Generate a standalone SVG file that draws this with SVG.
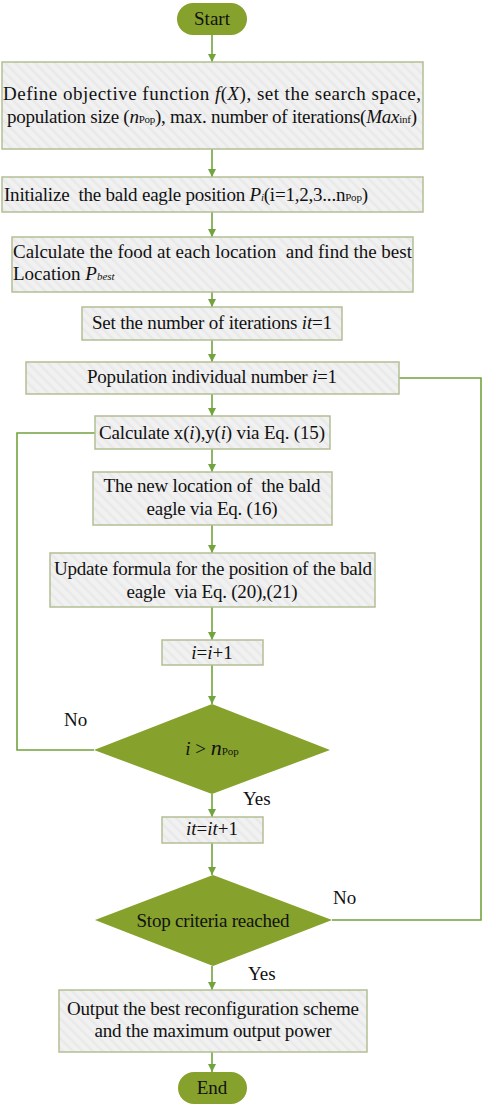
<svg xmlns="http://www.w3.org/2000/svg" width="484" height="1107" viewBox="0 0 484 1107">
<style>
text{font-family:"Liberation Serif","Times New Roman",serif;font-size:19px;fill:#111;white-space:pre}
.c{text-anchor:middle}
.it{font-style:italic}
.sm{font-size:11px}
.box{fill:url(#hatch);stroke:#b2be94;stroke-width:1.5}
.term{fill:#86a22c}
.dia{fill:#86a22c}
.con{fill:none;stroke:#72a33c;stroke-width:1.6}
</style>
<defs>
<pattern id="hatch" width="7" height="7" patternUnits="userSpaceOnUse" patternTransform="rotate(-45)">
<rect width="7" height="7" fill="#f1f1f1"/>
<rect width="2.5" height="7" fill="#e9e9e9"/>
</pattern>
<marker id="arr" markerUnits="userSpaceOnUse" markerWidth="9" markerHeight="9" refX="8" refY="4" orient="auto">
<path d="M0,0 L8,4 L0,8 z" fill="#72a33c"/>
</marker>
</defs>
<g id="connectors">
<line class="con" x1="212" y1="35" x2="212" y2="62" marker-end="url(#arr)"/>
<line class="con" x1="212" y1="149" x2="212" y2="177" marker-end="url(#arr)"/>
<line class="con" x1="212" y1="212" x2="212" y2="237" marker-end="url(#arr)"/>
<line class="con" x1="212" y1="292" x2="212" y2="307" marker-end="url(#arr)"/>
<line class="con" x1="212" y1="340" x2="212" y2="362" marker-end="url(#arr)"/>
<line class="con" x1="212" y1="394" x2="212" y2="416" marker-end="url(#arr)"/>
<line class="con" x1="212" y1="449" x2="212" y2="472" marker-end="url(#arr)"/>
<line class="con" x1="212" y1="525" x2="212" y2="553" marker-end="url(#arr)"/>
<line class="con" x1="212" y1="607" x2="212" y2="640" marker-end="url(#arr)"/>
<line class="con" x1="212" y1="665" x2="212" y2="704" marker-end="url(#arr)"/>
<polyline class="con" points="94,750 17,750 17,433 95,433"/>
<line class="con" x1="212" y1="794" x2="212" y2="817" marker-end="url(#arr)"/>
<line class="con" x1="212" y1="843" x2="212" y2="875" marker-end="url(#arr)"/>
<polyline class="con" points="332,920 481,920 481,378 399,378"/>
<line class="con" x1="212" y1="966" x2="212" y2="990" marker-end="url(#arr)"/>
<line class="con" x1="212" y1="1052" x2="212" y2="1072" marker-end="url(#arr)"/>
<text x="64" y="726">No</text>
<text x="243" y="805">Yes</text>
<text x="333" y="904">No</text>
<text x="248" y="980">Yes</text>
</g>
<g id="start">
<rect class="term" x="177" y="3" width="70" height="32" rx="16"/>
<text class="c" x="212" y="25">Start</text>
</g>
<g id="define">
<rect class="box" x="2" y="62" width="421" height="87"/>
<text class="c" x="212" y="100" textLength="418" lengthAdjust="spacing">Define objective function <tspan class="it">f</tspan>(<tspan class="it">X</tspan>), set the search space,</text>
<text class="c" x="212" y="123" textLength="410" lengthAdjust="spacing">population size (<tspan class="it">n</tspan><tspan class="sm">Pop</tspan>), max. number of iterations(<tspan class="it">Max</tspan><tspan class="sm">inf</tspan>)</text>
</g>
<g id="init">
<rect class="box" x="2" y="177" width="421" height="35"/>
<text x="4" y="201" textLength="364" lengthAdjust="spacing">Initialize  the bald eagle position <tspan class="it">P</tspan><tspan class="it sm">i</tspan>(i=1,2,3...n<tspan class="sm">Pop</tspan>)</text>
</g>
<g id="food">
<rect class="box" x="12" y="237" width="401" height="55"/>
<text x="13" y="258" textLength="399" lengthAdjust="spacing">Calculate the food at each location  and find the best</text>
<text x="13" y="280">Location <tspan class="it">P</tspan><tspan class="it sm">best</tspan></text>
</g>
<g id="setit">
<rect class="box" x="82" y="307" width="260" height="33"/>
<text class="c" x="212" y="329" textLength="240" lengthAdjust="spacing">Set the number of iterations <tspan class="it">it</tspan>=1</text>
</g>
<g id="popi">
<rect class="box" x="26" y="362" width="373" height="32"/>
<text class="c" x="212" y="383" textLength="250" lengthAdjust="spacing">Population individual number <tspan class="it">i</tspan>=1</text>
</g>
<g id="calcxy">
<rect class="box" x="95" y="416" width="235" height="33"/>
<text class="c" x="212" y="439" textLength="226" lengthAdjust="spacing">Calculate x(<tspan class="it">i</tspan>),y(<tspan class="it">i</tspan>) via Eq. (15)</text>
</g>
<g id="newloc">
<rect class="box" x="93" y="472" width="239" height="53"/>
<text class="c" x="212" y="492" textLength="217" lengthAdjust="spacing">The new location of  the bald</text>
<text class="c" x="212" y="515" textLength="131" lengthAdjust="spacing">eagle via Eq. (16)</text>
</g>
<g id="update">
<rect class="box" x="50" y="553" width="325" height="54"/>
<text class="c" x="213" y="575" textLength="318" lengthAdjust="spacing">Update formula for the position of the bald</text>
<text class="c" x="212" y="598" textLength="171" lengthAdjust="spacing">eagle  via Eq. (20),(21)</text>
</g>
<g id="inc-i">
<rect class="box" x="162" y="640" width="101" height="25"/>
<text class="c" x="212" y="659"><tspan class="it">i</tspan>=<tspan class="it">i</tspan>+1</text>
</g>
<g id="check-i">
<polygon class="dia" points="212,704 330,750 212,794 94,750"/>
<text class="c" x="212" y="755"><tspan class="it">i</tspan> &gt; <tspan class="it" font-size="22">n</tspan><tspan class="sm">Pop</tspan></text>
</g>
<g id="inc-it">
<rect class="box" x="162" y="817" width="101" height="26"/>
<text class="c" x="212" y="835"><tspan class="it">it</tspan>=<tspan class="it">it</tspan>+1</text>
</g>
<g id="stop">
<polygon class="dia" points="213,875 332,920 213,966 95,920"/>
<text class="c" x="213" y="927" textLength="153" lengthAdjust="spacing">Stop criteria reached</text>
</g>
<g id="output">
<rect class="box" x="59" y="990" width="308" height="62"/>
<text class="c" x="213" y="1015" textLength="292" lengthAdjust="spacing">Output the best reconfiguration scheme</text>
<text class="c" x="213" y="1037" textLength="237" lengthAdjust="spacing">and the maximum output power</text>
</g>
<g id="end">
<rect class="term" x="178" y="1072" width="69" height="32" rx="16"/>
<text class="c" x="212" y="1094">End</text>
</g>
</svg>
